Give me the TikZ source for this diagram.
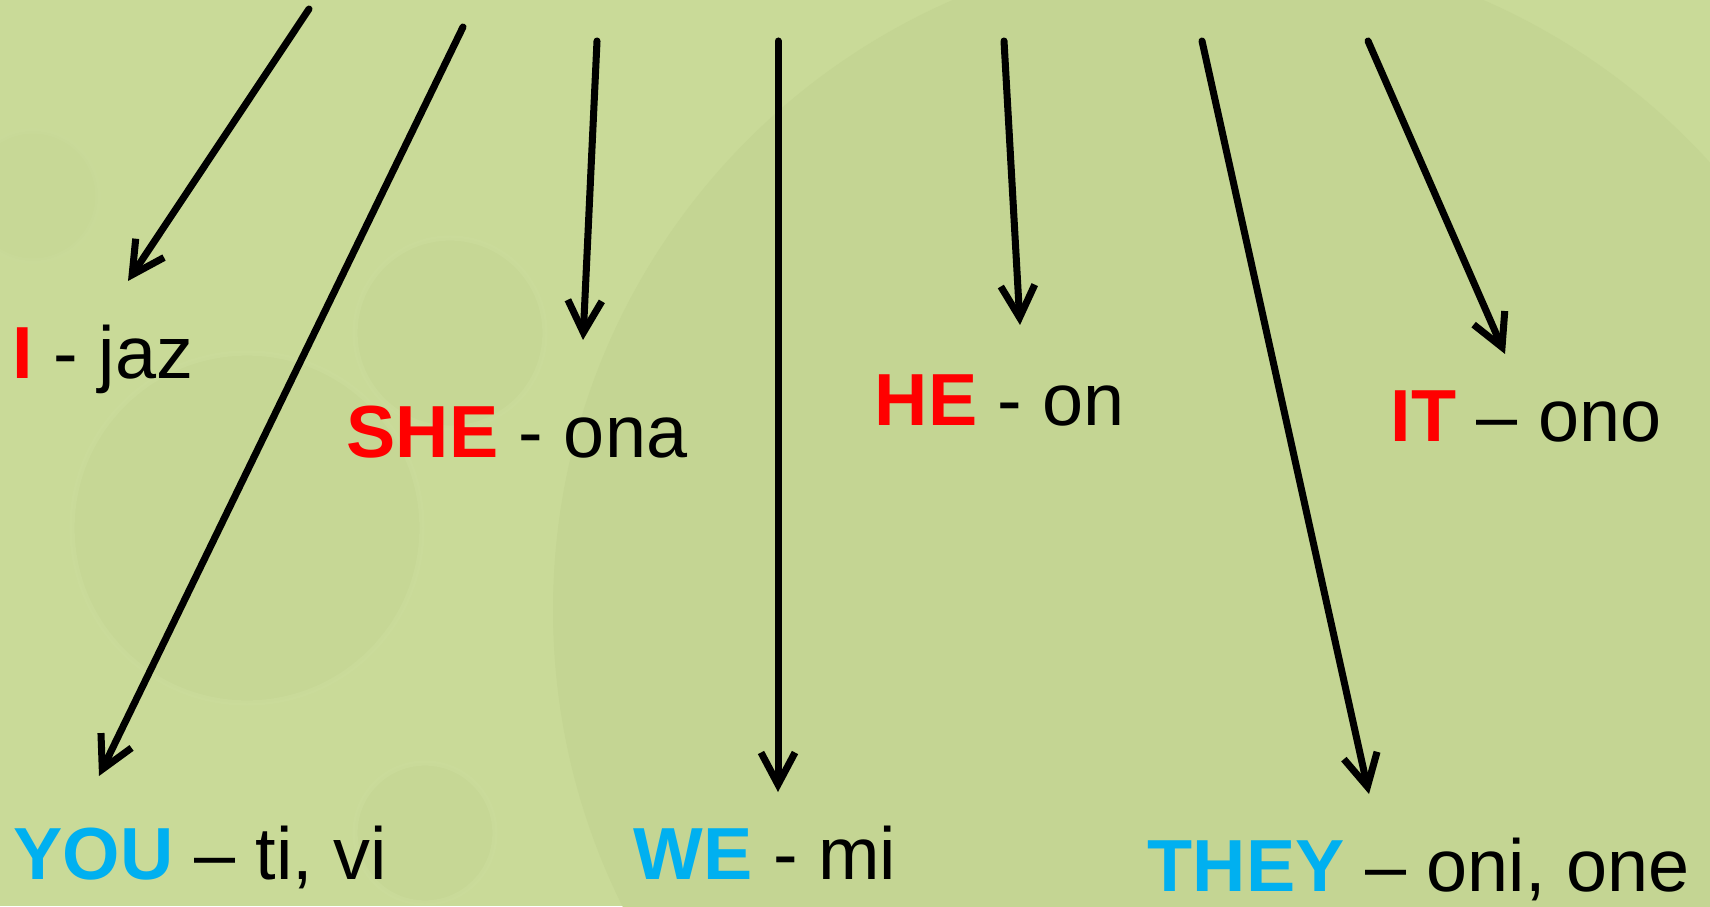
\documentclass[tikz,border=0pt]{standalone}
\usepackage{fontspec}
\setmainfont{Liberation Sans}
\usetikzlibrary{arrows.meta}

\definecolor{bgcol}{RGB}{201,218,152}
\definecolor{ringcol}{RGB}{196,213,147}
\definecolor{rimcol}{RGB}{203,220,156}
\definecolor{pronred}{RGB}{255,0,0}
\definecolor{pronblue}{RGB}{0,176,240}

\newcommand{\boldword}[2]{\textcolor{#1}{\bfseries #2}}

\tikzset{pointer/.style={line width=2pt,line cap=round,line join=round,-{Straight Barb[length=3.2mm,width=3.4mm]}},
         pron/.style={anchor=base west,inner sep=0pt,font=\fontsize{21}{25}\selectfont}}

\begin{document}
\begin{tikzpicture}
                  \useasboundingbox (0,0) rectangle (17.10,9.06);
                  \fill[bgcol] (0,0) rectangle (17.10,9.06);
                  \begin{scope}
                  \clip (0,0) rectangle (17.10,9.06);
                  \fill[ringcol] (12.18,2.96) circle (6.65);
                  \filldraw[ringcol,draw=rimcol,line width=1.5pt,opacity=0.6] (2.47,3.78) circle (1.75);
                  \filldraw[ringcol,draw=rimcol,line width=1.5pt,opacity=0.6] (4.50,5.73) circle (0.95);
                  \filldraw[ringcol,draw=rimcol,line width=1.5pt,opacity=0.6] (4.25,0.73) circle (0.70);
                  \filldraw[ringcol,draw=rimcol,line width=1.5pt,opacity=0.4] (0.33,7.10) circle (0.65);
                  \end{scope}

                  \node[pron] (i) at (0.12,5.27) {\boldword{pronred}{I} - jaz};
                  \node[pron] (she) at (3.46,4.49) {\boldword{pronred}{SHE} - ona};
                  \node[pron] (he) at (8.74,4.81) {\boldword{pronred}{HE} - on};
                  \node[pron] (it) at (13.90,4.65) {\boldword{pronred}{IT} – ono};
                  \node[pron] (you) at (0.13,0.27) {\boldword{pronblue}{YOU} – ti, vi};
                  \node[pron] (we) at (6.33,0.27) {\boldword{pronblue}{WE} - mi};
                  \node[pron] (they) at (11.47,0.15) {\boldword{pronblue}{THEY} – oni, one};

                  \coordinate (i-from) at (3.09,8.97);
                  \coordinate (i-to) at (1.28,6.25);
                  \coordinate (you-from) at (4.63,8.79);
                  \coordinate (you-to) at (0.99,1.30);
                  \coordinate (she-from) at (5.97,8.65);
                  \coordinate (she-to) at (5.83,5.66);
                  \coordinate (we-from) at (7.78,8.65);
                  \coordinate (we-to) at (7.78,1.14);
                  \coordinate (he-from) at (10.04,8.65);
                  \coordinate (he-to) at (10.20,5.81);
                  \coordinate (they-from) at (12.02,8.65);
                  \coordinate (they-to) at (13.69,1.12);
                  \coordinate (it-from) at (13.68,8.65);
                  \coordinate (it-to) at (15.05,5.52);
                  \foreach \p in {i,you,she,we,he,they,it}
                    \draw[pointer] (\p-from) -- (\p-to);
              \end{tikzpicture}
\end{document}
